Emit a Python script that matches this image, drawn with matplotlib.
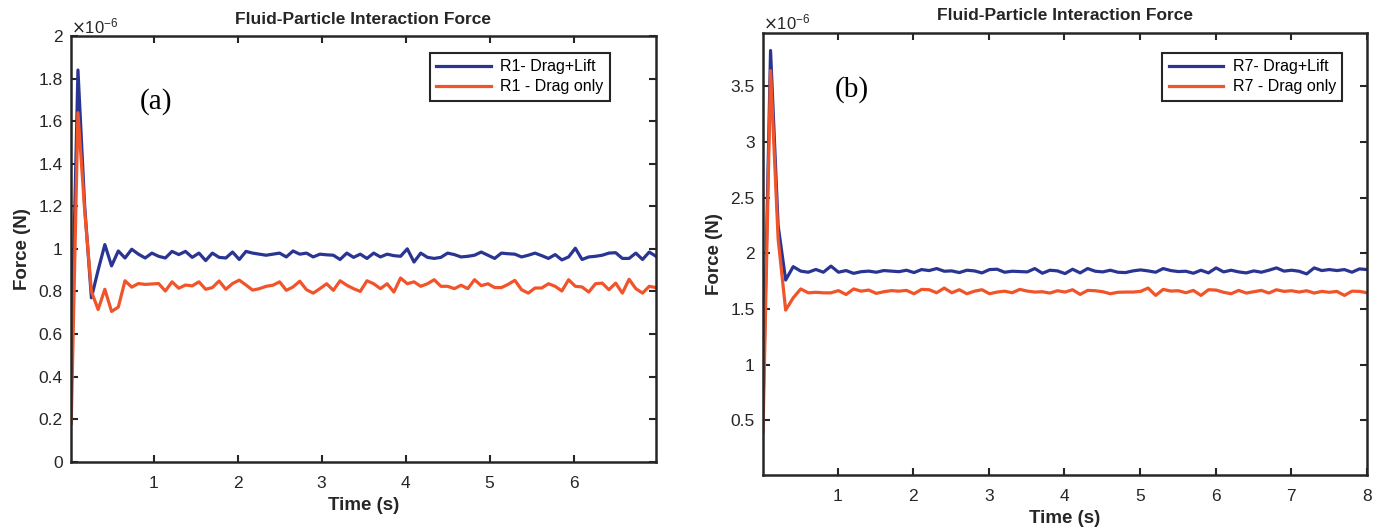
import matplotlib.pyplot as plt
import numpy as np

plt.rcParams['font.family'] = ['Liberation Sans', 'DejaVu Sans']

# Panel (a): R1, values in units of 1e-6 N
r1_lift = [0.45, 1.84, 1.20, 0.77, 0.90, 1.02, 0.92, 0.99, 0.957, 0.998,
           0.975, 0.957, 0.98, 0.965, 0.957, 0.988, 0.973, 0.988, 0.96, 0.98,
           0.945, 0.98, 0.96, 0.957, 0.985, 0.95, 0.988, 0.98, 0.975, 0.97,
           0.975, 0.98, 0.962, 0.99, 0.975, 0.98, 0.962, 0.975, 0.972, 0.97,
           0.95, 0.98, 0.96, 0.975, 0.955, 0.98, 0.962, 0.975, 0.968, 0.965,
           1.0, 0.938, 0.98, 0.96, 0.955, 0.96, 0.98, 0.973, 0.962, 0.965,
           0.97, 0.985, 0.97, 0.955, 0.98, 0.977, 0.975, 0.962, 0.97, 0.98,
           0.968, 0.955, 0.973, 0.948, 0.962, 1.003, 0.95, 0.962, 0.965, 0.97,
           0.98, 0.982, 0.955, 0.955, 0.98, 0.95, 0.985, 0.965]
r1_drag = [0.18, 1.64, 1.18, 0.80, 0.715, 0.81, 0.706, 0.726, 0.85, 0.82,
           0.837, 0.833, 0.835, 0.837, 0.802, 0.845, 0.815, 0.83, 0.826, 0.845,
           0.81, 0.818, 0.849, 0.81, 0.837, 0.853, 0.83, 0.806,
           0.813, 0.824, 0.829, 0.845, 0.805, 0.821, 0.848, 0.808, 0.792, 0.813,
           0.836, 0.805, 0.85, 0.829, 0.813, 0.80, 0.85, 0.836, 0.813, 0.836,
           0.797, 0.863, 0.836, 0.845, 0.824, 0.836, 0.855, 0.824, 0.824, 0.813,
           0.829, 0.813, 0.855, 0.827, 0.836, 0.818, 0.818, 0.833, 0.852, 0.808,
           0.792, 0.816, 0.816, 0.836, 0.824, 0.802, 0.855, 0.824, 0.821, 0.797,
           0.836, 0.839, 0.808, 0.839, 0.792, 0.857, 0.813, 0.792, 0.824, 0.818]

# Panel (b): R7, values in units of 1e-6 N
r7_lift = [0.60, 3.82, 2.25, 1.76, 1.88, 1.84, 1.83, 1.855, 1.83, 1.885,
           1.83, 1.845, 1.82, 1.835, 1.84, 1.83, 1.845, 1.84, 1.835,
           1.848, 1.827, 1.854, 1.845, 1.863, 1.839, 1.842, 1.827, 1.848, 1.842,
           1.824, 1.854, 1.857, 1.830, 1.839, 1.836, 1.833, 1.863, 1.821, 1.848,
           1.842, 1.818, 1.857, 1.824, 1.863, 1.839, 1.833, 1.848, 1.830, 1.827,
           1.842, 1.851, 1.842, 1.830, 1.863, 1.845, 1.836, 1.839, 1.821, 1.848,
           1.824, 1.869, 1.833, 1.848, 1.833, 1.824, 1.842, 1.830, 1.848, 1.869,
           1.840, 1.848, 1.839, 1.815, 1.869, 1.845, 1.854, 1.845, 1.854, 1.830,
           1.860, 1.854]
r7_drag = [0.39, 3.64, 2.13, 1.49, 1.60, 1.68, 1.645, 1.65, 1.645, 1.645,
           1.665, 1.63, 1.68, 1.66, 1.67, 1.64, 1.655, 1.665, 1.66,
           1.667, 1.637, 1.676, 1.673, 1.646, 1.688, 1.646, 1.673, 1.637, 1.660,
           1.673, 1.637, 1.652, 1.660, 1.646, 1.676, 1.661, 1.652, 1.655, 1.643,
           1.664, 1.652, 1.673, 1.631, 1.667, 1.664, 1.655, 1.637, 1.650, 1.652,
           1.652, 1.658, 1.688, 1.622, 1.676, 1.661, 1.664, 1.646, 1.667, 1.622,
           1.673, 1.670, 1.650, 1.637, 1.667, 1.643, 1.655, 1.667, 1.643, 1.673,
           1.658, 1.664, 1.652, 1.664, 1.643, 1.658, 1.650, 1.658, 1.622, 1.660,
           1.658, 1.646]

blue = '#2A3593'
orange = '#F2542A'
dark = '#262626'

fig = plt.figure(figsize=(13.81, 5.28), dpi=100)
ax1 = fig.add_axes([0.0514, 0.1256, 0.4236, 0.8062])
ax2 = fig.add_axes([0.5525, 0.1000, 0.4374, 0.8380])


def style(ax, xlim, ylim, yticks, yfmt, xlabelpad):
    ax.set_xlim(*xlim)
    ax.set_ylim(*ylim)
    ax.set_yticks(yticks)
    ax.set_yticklabels([yfmt(v) for v in yticks])
    ax.tick_params(direction='in', length=5, width=1.5, top=True, right=True,
                   labelsize=12.5, colors=dark)
    ax.tick_params(axis='y', pad=6)
    ax.tick_params(axis='x', pad=10)
    for sp in ax.spines.values():
        sp.set_linewidth(1.8)
        sp.set_color(dark)
    ax.set_title('Fluid-Particle Interaction Force', fontsize=12.5,
                 fontweight='bold', color=dark, pad=9)
    ax.set_xlabel('Time (s)', fontsize=13.5, fontweight='bold', color=dark,
                  labelpad=xlabelpad)
    ax.set_ylabel('Force (N)', fontsize=13.5, fontweight='bold', color=dark, labelpad=5)
    ax.text(0.0, 1.0, r'$\times\mathdefault{10^{-6}}$', transform=ax.transAxes,
            fontsize=12, color=dark, ha='left', va='bottom')


def legend(ax, anchor):
    leg = ax.legend(loc='upper right', bbox_to_anchor=anchor, borderaxespad=0,
                    fontsize=11.5, handlelength=3.4, handletextpad=0.6,
                    fancybox=False, framealpha=1, edgecolor=dark,
                    borderpad=0.4, labelspacing=0.3)
    leg.get_frame().set_linewidth(1.5)


# (a)
t1 = np.linspace(0.02, 6.98, len(r1_lift))
ax1.plot(t1, r1_lift, color=blue, lw=2.3, label='R1- Drag+Lift')
ax1.plot(t1, r1_drag, color=orange, lw=2.3, label='R1 - Drag only')
style(ax1, (0.017, 6.98), (0, 2), np.arange(0, 2.01, 0.2),
      lambda v: '%g' % round(v, 1), 4.5)
ax1.set_xticks([1, 2, 3, 4, 5, 6])
ax1.text(0.145, 0.845, '(a)', transform=ax1.transAxes, fontsize=21,
         family='Liberation Serif', ha='center', va='center')
legend(ax1, (0.921, 0.96))

# (b)
t2 = np.linspace(0.015, 8.0, len(r7_lift))
ax2.plot(t2, r7_lift, color=blue, lw=2.3, label='R7- Drag+Lift')
ax2.plot(t2, r7_drag, color=orange, lw=2.3, label='R7 - Drag only')
style(ax2, (0.015, 8.0), (0.008, 3.98), np.arange(0.5, 3.51, 0.5),
      lambda v: '%g' % v, 4.5)
ax2.set_xticks([1, 2, 3, 4, 5, 6, 7, 8])
ax2.text(0.147, 0.872, '(b)', transform=ax2.transAxes, fontsize=21,
         family='Liberation Serif', ha='center', va='center')
legend(ax2, (0.959, 0.954))

fig.savefig('out.png', dpi=100)
